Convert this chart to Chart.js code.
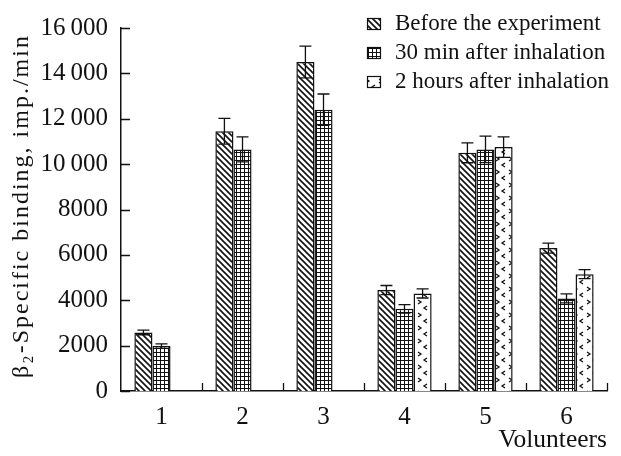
<!DOCTYPE html>
<html>
<head>
<meta charset="utf-8">
<script src="https://cdn.jsdelivr.net/npm/chart.js@4.4.1/dist/chart.umd.min.js"></script>
<style>
  html, body { margin: 0; padding: 0; background: #fff; }
  #wrap { width: 621px; height: 456px; }
</style>
</head>
<body>
<div id="wrap"><canvas id="chart"></canvas></div>
<script>
// --------------------
// Data
// --------------------
const volunteers = ['1', '2', '3', '4', '5', '6'];
const seriesNames = ['Before the experiment', '30 min after inhalation', '2 hours after inhalation'];

const beforeValues = [2580, 11450, 14500, 4450, 10500, 6300];
const beforeErrors = [100, 570, 700, 200, 440, 220];

const after30Values = [1980, 10650, 12400, 3620, 10650, 4080];
const after30Errors = [100, 550, 690, 190, 580, 200];

const after2hValues = [null, null, null, 4300, 10750, 5150];
const after2hErrors = [null, null, null, 200, 450, 200];

const yTicks = [0, 2000, 4000, 6000, 8000, 10000, 12000, 14000, 16000];
const yTitle = 'β₂-Specific binding, imp./min';
const xTitle = 'Volunteers';

const INK = '#111';
const SERIF = '"Liberation Serif", "Times New Roman", serif';

// --------------------
// Fill patterns
// --------------------
function makeTile(w, h, draw) {
    const c = document.createElement('canvas');
    c.width = w; c.height = h;
    const g = c.getContext('2d');
    g.fillStyle = '#fff';
    g.fillRect(0, 0, w, h);
    g.strokeStyle = INK;
    draw(g);
    return g.createPattern(c, 'repeat');
}

const hatchFill = makeTile(6, 6, g => {
    g.lineWidth = 1.6;
    g.beginPath();
    g.moveTo(-1, -1); g.lineTo(7, 7);
    g.moveTo(-1, 5); g.lineTo(1, 7);
    g.moveTo(5, -1); g.lineTo(7, 1);
    g.stroke();
});

const gridFill = makeTile(4, 4, g => {
    g.lineWidth = 1;
    g.beginPath();
    g.moveTo(0.5, 0); g.lineTo(0.5, 4);
    g.moveTo(0, 0.5); g.lineTo(4, 0.5);
    g.stroke();
});

const chevronFill = makeTile(13, 13, g => {
    g.lineWidth = 1.3;
    g.beginPath();
    g.moveTo(2, 1); g.lineTo(5, 3); g.lineTo(2, 5);
    g.moveTo(11, 7); g.lineTo(8, 9); g.lineTo(11, 11);
    g.stroke();
});

// --------------------
// Plugins
// --------------------
const errorBars = {
    id: 'errorBars',
    afterDatasetsDraw(chart) {
        const { ctx } = chart;
        const y = chart.scales.y;
        ctx.save();
        ctx.strokeStyle = INK;
        ctx.lineWidth = 1.3;
        chart.data.datasets.forEach((ds, i) => {
            const meta = chart.getDatasetMeta(i);
            meta.data.forEach((bar, j) => {
                const v = ds.data[j], e = ds.errors[j];
                if (v == null || e == null) return;
                const top = y.getPixelForValue(v + e);
                const bot = y.getPixelForValue(v - e);
                ctx.beginPath();
                ctx.moveTo(bar.x, top); ctx.lineTo(bar.x, bot);
                ctx.moveTo(bar.x - 6, top); ctx.lineTo(bar.x + 6, top);
                ctx.moveTo(bar.x - 6, bot); ctx.lineTo(bar.x + 6, bot);
                ctx.stroke();
            });
        });
        ctx.restore();
    }
};

// inward tick marks on both axes + the spaced-out y title
const axisExtras = {
    id: 'axisExtras',
    afterDraw(chart) {
        const { ctx, chartArea } = chart;
        const { x, y } = chart.scales;
        ctx.save();
        ctx.strokeStyle = INK;
        ctx.lineWidth = 1.3;
        ctx.beginPath();
        y.ticks.forEach(t => {
            const py = Math.round(y.getPixelForValue(t.value)) + 0.5;
            ctx.moveTo(chartArea.left, py); ctx.lineTo(chartArea.left + 9, py);
        });
        for (let i = 0; i < volunteers.length; i++) {
            const px = Math.round(x.getPixelForValue(i + 0.5)) + 0.5;
            ctx.moveTo(px, chartArea.bottom); ctx.lineTo(px, chartArea.bottom - 8);
        }
        ctx.stroke();

        ctx.translate(22, 206);
        ctx.rotate(-Math.PI / 2);
        ctx.font = '24px ' + SERIF;
        ctx.letterSpacing = '2px';
        ctx.fillStyle = INK;
        ctx.textAlign = 'center';
        ctx.textBaseline = 'middle';
        ctx.fillText(yTitle, 0, 0);
        ctx.restore();
    }
};

const boxLegend = {
    id: 'boxLegend',
    afterDraw(chart) {
        const { ctx } = chart;
        ctx.save();
        ctx.font = '23px ' + SERIF;
        ctx.textBaseline = 'alphabetic';
        chart.data.datasets.forEach((ds, i) => {
            const base = 30 + i * 29;
            ctx.fillStyle = ds.backgroundColor;
            ctx.fillRect(367, base - 12, 13, 11);
            ctx.strokeStyle = INK;
            ctx.lineWidth = 1.2;
            ctx.strokeRect(367.5, base - 11.5, 13, 11);
            ctx.fillStyle = INK;
            ctx.fillText(ds.label, 395, base);
        });
        ctx.restore();
    }
};

// --------------------
// Chart
// --------------------
Chart.defaults.font.family = SERIF;
Chart.defaults.color = INK;

new Chart(document.getElementById('chart'), {
    type: 'bar',
    data: {
        labels: volunteers,
        datasets: [
            { label: seriesNames[0], data: beforeValues, errors: beforeErrors, backgroundColor: hatchFill },
            { label: seriesNames[1], data: after30Values, errors: after30Errors, backgroundColor: gridFill },
            { label: seriesNames[2], data: after2hValues, errors: after2hErrors, backgroundColor: chevronFill }
        ].map(d => Object.assign(d, {
            borderColor: INK,
            borderWidth: 1.5,
            borderSkipped: 'bottom',
            categoryPercentage: 0.67,
            barPercentage: 1.0
        }))
    },
    options: {
        responsive: true,
        maintainAspectRatio: false,
        animation: false,
        layout: { padding: { top: 24, right: 14, left: 0, bottom: 0 } },
        plugins: { legend: { display: false }, tooltip: { enabled: false } },
        scales: {
            x: {
                grid: { display: false, drawTicks: false, tickLength: 0 },
                border: { color: INK, width: 1.5 },
                ticks: { padding: 11, font: { size: 25 } },
                title: { display: true, text: xTitle, align: 'end', font: { size: 25.5 }, padding: { top: 0, bottom: 0 } },
                afterFit: s => { s.height = 65; }
            },
            y: {
                min: 0,
                max: 16000,
                afterBuildTicks: s => { s.ticks = yTicks.map(v => ({ value: v })); },
                grid: { display: false, drawTicks: false, tickLength: 0 },
                border: { color: INK, width: 1.5 },
                ticks: {
                    padding: 13,
                    font: { size: 25 },
                    callback: v => v >= 10000 ? Math.floor(v / 1000) + '\u2009' + String(v % 1000).padStart(3, '0') : String(v)
                },
                afterFit: s => { s.width = 121; }
            }
        }
    },
    plugins: [errorBars, axisExtras, boxLegend]
});
</script>
</body>
</html>
